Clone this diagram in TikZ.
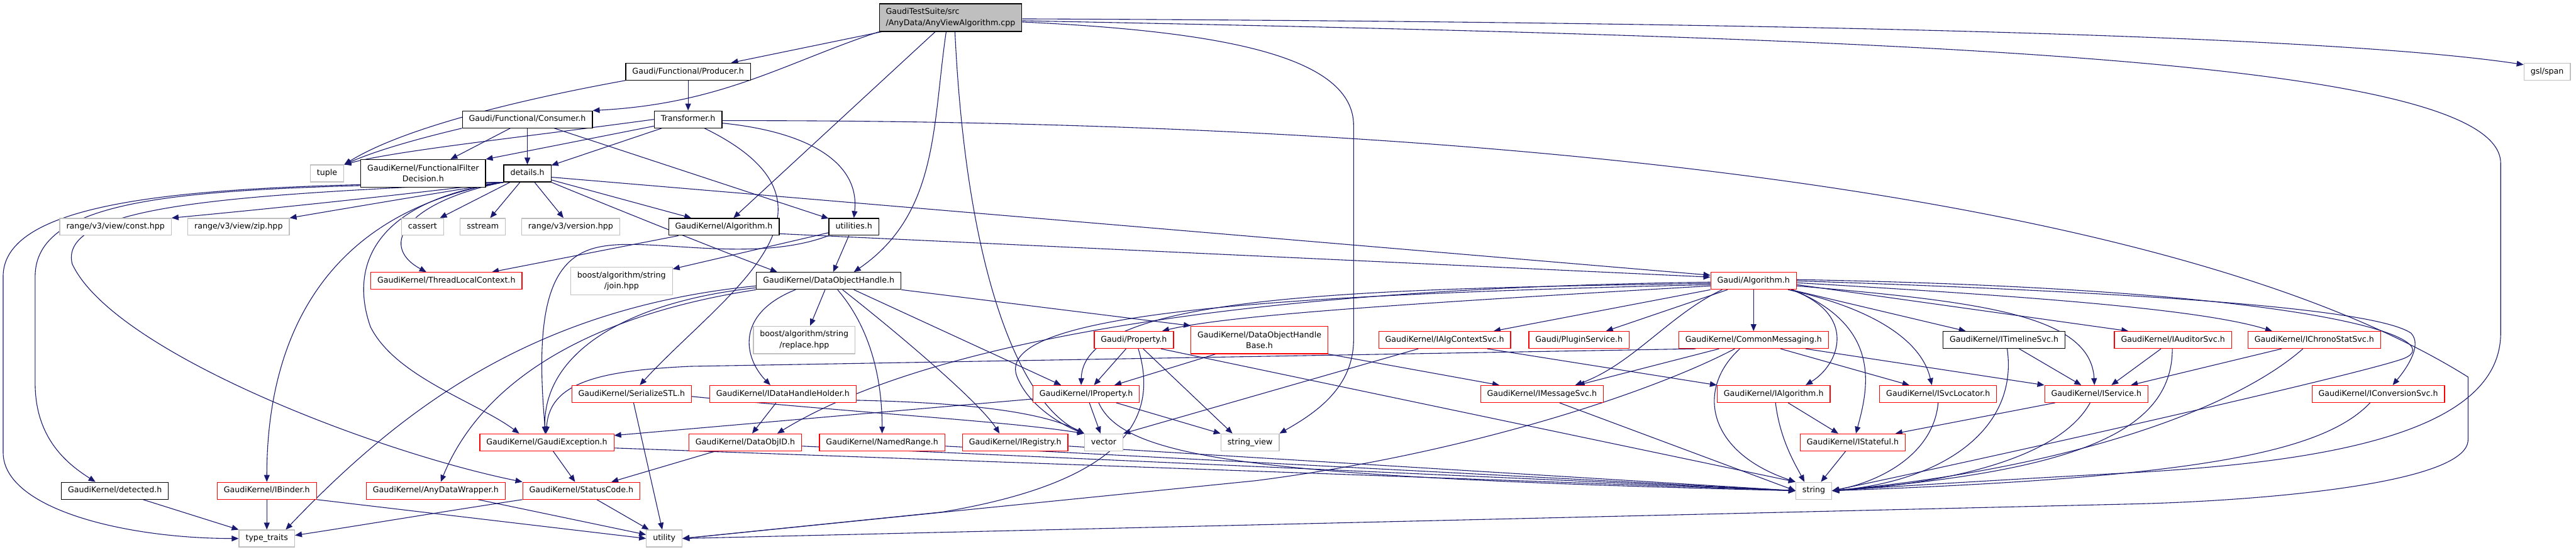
\documentclass[tikz,border=0pt]{standalone}
\usepackage{fontspec}
\setmainfont{DejaVu Sans}
\usetikzlibrary{arrows.meta,backgrounds}

\definecolor{edgeblue}{HTML}{191970}
\definecolor{sysgray}{HTML}{BFBFBF}
\definecolor{rootgray}{HTML}{BFBFBF}
\definecolor{truncred}{HTML}{FF0000}

\newcommand*{\picw}{4103}
\newcommand*{\pich}{878}
\newcommand*{\dotfont}{\fontsize{12.65}{17.3}\selectfont}

\begin{document}
\begin{tikzpicture}
[
	x=1pt, y=-1pt,
	hbox/.style={rectangle,fill=white,line width=1.2pt,inner xsep=10.5pt,inner ysep=0pt,font=\dotfont,minimum height=27pt,text height=9.6pt,text depth=3pt},
	hboxii/.style={rectangle,fill=white,line width=1.2pt,inner xsep=10.5pt,inner ysep=0pt,font=\dotfont,minimum height=44pt,align=center},
	blackline/.style={draw=black},
	redline/.style={draw=truncred},
	grayline/.style={draw=sysgray},
	dep/.style={-{Triangle[length=11pt,width=9pt]},draw=edgeblue,line width=1.1pt}
]

	\useasboundingbox (0,0) rectangle (\picw,\pich);

	% top rows
	\node[hboxii,blackline,fill=rootgray,align=left] (root) at (1514,28) {GaudiTestSuite/src\\/AnyData/AnyViewAlgorithm.cpp};
	\node[hbox,blackline] (producer) at (1096,114) {Gaudi/Functional/Producer.h};
	\node[hbox,grayline] (gslspan) at (4057,114) {gsl/span};
	\node[hbox,blackline] (consumer) at (840,190) {Gaudi/Functional/Consumer.h};
	\node[hbox,blackline] (transformer) at (1096,190) {Transformer.h};
	\node[hbox,grayline] (tuple) at (521,276) {tuple};
	\node[hboxii,blackline] (ffd) at (674,276) {GaudiKernel/FunctionalFilter\\Decision.h};
	\node[hbox,blackline] (details) at (840,276) {details.h};

	% details.h row
	\node[hbox,grayline] (constv) at (184,361) {range/v3/view/const.hpp};
	\node[hbox,grayline] (zipv) at (380,361) {range/v3/view/zip.hpp};
	\node[hbox,grayline] (cassert) at (673,361) {cassert};
	\node[hbox,grayline] (sstream) at (769,361) {sstream};
	\node[hbox,grayline] (version) at (909,361) {range/v3/version.hpp};
	\node[hbox,blackline] (gkalg) at (1153,361) {GaudiKernel/Algorithm.h};
	\node[hbox,blackline] (utilities) at (1360,361) {utilities.h};

	% middle rows
	\node[hbox,redline] (tlc) at (711,447) {GaudiKernel/ThreadLocalContext.h};
	\node[hboxii,grayline] (join) at (990,447) {boost/algorithm/string\\/join.hpp};
	\node[hbox,blackline] (doh) at (1320,447) {GaudiKernel/DataObjectHandle.h};
	\node[hbox,redline] (galg) at (2793,447) {Gaudi/Algorithm.h};
	\node[hboxii,grayline] (replace) at (1281,541) {boost/algorithm/string\\/replace.hpp};
	\node[hbox,redline] (property) at (1806,541) {Gaudi/Property.h};
	\node[hboxii,redline] (dohbase) at (2006,541) {GaudiKernel/DataObjectHandle\\Base.h};
	\node[hbox,redline] (algctx) at (2301,541) {GaudiKernel/IAlgContextSvc.h};
	\node[hbox,redline] (plugin) at (2515,541) {Gaudi/PluginService.h};
	\node[hbox,redline] (commsg) at (2793,541) {GaudiKernel/CommonMessaging.h};
	\node[hbox,blackline] (timeline) at (3192,541) {GaudiKernel/ITimelineSvc.h};
	\node[hbox,redline] (auditor) at (3461,541) {GaudiKernel/IAuditorSvc.h};
	\node[hbox,redline] (chrono) at (3686,541) {GaudiKernel/IChronoStatSvc.h};
	\node[hbox,redline] (serstl) at (1006,627) {GaudiKernel/SerializeSTL.h};
	\node[hbox,redline] (dhholder) at (1247,627) {GaudiKernel/IDataHandleHolder.h};
	\node[hbox,redline] (iprop) at (1730,627) {GaudiKernel/IProperty.h};
	\node[hbox,redline] (msgsvc) at (2456,627) {GaudiKernel/IMessageSvc.h};
	\node[hbox,redline] (ialg) at (2825,627) {GaudiKernel/IAlgorithm.h};
	\node[hbox,redline] (svcloc) at (3087,627) {GaudiKernel/ISvcLocator.h};
	\node[hbox,redline] (iservice) at (3339,627) {GaudiKernel/IService.h};
	\node[hbox,redline] (convsvc) at (3788,627) {GaudiKernel/IConversionSvc.h};

	% bottom rows
	\node[hbox,redline] (gexc) at (871,704) {GaudiKernel/GaudiException.h};
	\node[hbox,redline] (dataobjid) at (1187,704) {GaudiKernel/DataObjID.h};
	\node[hbox,redline] (namedrange) at (1405,704) {GaudiKernel/NamedRange.h};
	\node[hbox,redline] (iregistry) at (1617,704) {GaudiKernel/IRegistry.h};
	\node[hbox,grayline] (vector) at (1758,704) {vector};
	\node[hbox,grayline] (stringview) at (1991,704) {string\_view};
	\node[hbox,redline] (istateful) at (2951,704) {GaudiKernel/IStateful.h};
	\node[hbox,blackline] (detected) at (183,781) {GaudiKernel/detected.h};
	\node[hbox,redline] (ibinder) at (425,781) {GaudiKernel/IBinder.h};
	\node[hbox,redline] (anydw) at (694,781) {GaudiKernel/AnyDataWrapper.h};
	\node[hbox,redline] (statuscode) at (926,781) {GaudiKernel/StatusCode.h};
	\node[hbox,grayline] (string) at (2889,781) {string};
	\node[hbox,grayline] (typetraits) at (425,857) {type\_traits};
	\node[hbox,grayline] (utility) at (1058,857) {utility};

	\begin{pgfonlayer}{background}
	% source file
	\draw[dep] (root) -- (producer);
	\draw[dep] (root.south west) .. controls (1250,100) and (1150,165) .. (consumer.north east);
	\draw[dep] (root) -- (gkalg);
	\draw[dep] ([xshift=-7pt]root.south) .. controls (1485,200) and (1495,340) .. ([xshift=40pt]doh.north);
	\draw[dep] ([xshift=7pt]root.south) .. controls (1540,450) and (1630,645) .. (vector.north west);
	\draw[dep] ([yshift=-7pt]root.east) .. controls (1950,50) and (2156,90) .. (2156,200) -- (2156,540) .. controls (2156,620) and (2090,660) .. (stringview.north east);
	\draw[dep] ([yshift=-2pt]root.east) .. controls (2800,35) and (3700,55) .. ([yshift=-3pt]gslspan.north west);
	\draw[dep] ([yshift=-5pt]root.east) .. controls (3000,60) and (3983,90) .. (3983,260) -- (3983,530) .. controls (3983,690) and (3700,735) .. (3400,752) .. controls (3200,763) and (3000,775) .. (string.east);

	% Producer.h, Consumer.h, Transformer.h
	\draw[dep] (producer) -- (transformer);
	\draw[dep] (producer.south west) .. controls (820,160) and (640,205) .. (tuple.north east);
	\draw[dep] (consumer.south west) .. controls (690,215) and (610,235) .. (tuple.north east);
	\draw[dep] (consumer) -- (ffd);
	\draw[dep] (consumer) -- (details);
	\draw[dep] (consumer) -- (utilities);
	\draw[dep] (transformer.west) .. controls (820,220) and (630,240) .. (tuple.north east);
	\draw[dep] (transformer) -- (ffd.north east);
	\draw[dep] (transformer) -- (details);
	\draw[dep] ([yshift=-6pt]transformer.east) .. controls (1290,210) and (1370,260) .. (utilities.north);
	\draw[dep] ([xshift=26pt]transformer.south) .. controls (1380,330) and (1150,470) .. ([xshift=13pt]serstl.north);
	\draw[dep] ([yshift=-2pt]transformer.east) .. controls (2500,190) and (3500,330) .. (3931,600) -- (3931,700) .. controls (3931,770) and (3600,797) .. (3400,802) -- (utility.east);

	% details.h
	\draw[dep] (details.south west) .. controls (400,295) and (5,300) .. (5,440) -- (5,720) .. controls (5,810) and (200,857) .. (typetraits.west);
	\draw[dep] (details.south west) .. controls (350,300) and (56,300) .. (56,440) -- (56,610) .. controls (56,700) and (110,740) .. ([xshift=-31pt]detected.north);
	\draw[dep] (details.south west) .. controls (420,310) and (90,320) .. (115,420) .. controls (180,560) and (600,720) .. (statuscode.north west);
	\draw[dep] (details.south west) .. controls (600,315) and (400,335) .. (constv.north east);
	\draw[dep] (details.south west) .. controls (680,310) and (560,330) .. (zipv.north east);
	\draw[dep] (details.south west) .. controls (500,340) and (425,560) .. (ibinder.north);
	\draw[dep] (details.south west) .. controls (600,320) and (555,420) .. (590,520) .. controls (630,600) and (760,640) .. ([xshift=-44pt]gexc.north);
	\draw[dep] (details.south west) .. controls (650,320) and (600,390) .. ([xshift=-32pt]tlc.north);
	\draw[dep] (details) -- (cassert);
	\draw[dep] (details) -- (sstream);
	\draw[dep] (details) -- (version);
	\draw[dep] (details) -- (gkalg);
	\draw[dep] (details.south east) .. controls (1000,340) and (1150,400) .. ([xshift=-82pt]doh.north);
	\draw[dep] ([yshift=-6pt]details.east) -- ([yshift=9pt]galg.west);

	% GaudiKernel/Algorithm.h, utilities.h
	\draw[dep] ([yshift=-11pt]gkalg.east) -- ([yshift=6pt]galg.west);
	\draw[dep] (gkalg) -- (tlc);
	\draw[dep] (utilities) -- (join);
	\draw[dep] ([xshift=-8pt]utilities.south) -- ([xshift=7pt]doh.north);
	\draw[dep] (utilities.south west) .. controls (1200,420) and (1040,378) .. (960,392) .. controls (880,405) and (850,480) .. ([xshift=-2pt]gexc.north);

	% DataObjectHandle.h
	\draw[dep] ([yshift=-11pt]doh.west) .. controls (1000,480) and (865,560) .. ([xshift=-3pt]gexc.north);
	\draw[dep] (doh.south west) .. controls (950,500) and (770,600) .. ([xshift=8pt]anydw.north);
	\draw[dep] ([yshift=-8pt]doh.west) .. controls (850,490) and (640,650) .. ([xshift=30pt]typetraits.north);
	\draw[dep] ([xshift=-53pt]doh.south) .. controls (1170,500) and (1185,570) .. ([xshift=-20pt]dhholder.north);
	\draw[dep] (doh) -- (replace);
	\draw[dep] ([xshift=14pt]doh.south) .. controls (1385,520) and (1405,600) .. (namedrange.north);
	\draw[dep] ([xshift=22pt]doh.south) .. controls (1430,530) and (1560,640) .. ([xshift=-25pt]iregistry.north);
	\draw[dep] ([xshift=40pt]doh.south) -- ([xshift=-40pt]iprop.north);
	\draw[dep] (doh.south east) -- (dohbase.north west);

	% Gaudi/Algorithm.h
	\draw[dep] ([yshift=-8pt]galg.west) .. controls (2300,480) and (1960,500) .. ([xshift=45pt]property.north);
	\draw[dep] ([yshift=-4pt]galg.west) .. controls (2150,460) and (1725,470) .. ([xshift=-8pt]iprop.north);
	\draw[dep] ([yshift=-6pt]galg.west) .. controls (2000,470) and (1580,500) .. (1620,600) .. controls (1640,650) and (1700,680) .. (vector.north west);
	\draw[dep] ([yshift=-2pt]galg.west) .. controls (1900,460) and (1450,560) .. ([xshift=51pt]dataobjid.north);
	\draw[dep] (galg.south west) -- ([xshift=78pt]algctx.north);
	\draw[dep] (galg) -- ([xshift=43pt]plugin.north);
	\draw[dep] ([xshift=-50pt]galg.south) .. controls (2660,500) and (2600,580) .. ([xshift=53pt]msgsvc.north);
	\draw[dep] (galg) -- (commsg);
	\draw[dep] ([xshift=60pt]galg.south) .. controls (2960,500) and (2930,580) .. ([xshift=51pt]ialg.north);
	\draw[dep] ([xshift=62pt]galg.south) .. controls (3000,520) and (2975,620) .. ([xshift=5pt]istateful.north);
	\draw[dep] ([xshift=55pt]galg.south) .. controls (2980,490) and (3060,540) .. ([xshift=-10pt]svcloc.north);
	\draw[dep] (galg) -- ([xshift=-61pt]timeline.north);
	\draw[dep] ([yshift=-8pt]galg.east) .. controls (3150,480) and (3330,500) .. ([xshift=-3pt]iservice.north);
	\draw[dep] ([yshift=-6pt]galg.east) -- ([xshift=-71pt]auditor.north);
	\draw[dep] ([yshift=-3pt]galg.east) .. controls (3200,470) and (3500,490) .. ([xshift=-67pt]chrono.north);
	\draw[dep] (galg.east) .. controls (3400,465) and (3780,490) .. (3840,530) .. controls (3860,550) and (3830,590) .. ([xshift=23pt]convsvc.north);
	\draw[dep] ([yshift=2pt]galg.east) .. controls (3700,460) and (3900,540) .. (3830,570) .. controls (3780,590) and (3300,700) .. (string.east);

	% CommonMessaging.h and friends
	\draw[dep] (commsg) -- ([xshift=57pt]msgsvc.north);
	\draw[dep] ([xshift=-92pt]commsg.south) -- (1100,583) .. controls (950,590) and (875,610) .. ([xshift=-1pt]gexc.north);
	\draw[dep] ([xshift=83pt]commsg.south) -- (iservice.north west);
	\draw[dep] ([xshift=43pt]commsg.south) -- ([xshift=-46pt]svcloc.north);
	\draw[dep] ([xshift=-22pt]commsg.south) .. controls (2700,620) and (2720,720) .. (string.north west);
	\draw[dep] ([xshift=-30pt]commsg.south) .. controls (2640,620) and (2350,720) .. (2000,765) -- (utility.east);
	\draw[dep] (property) -- (iprop);
	\draw[dep] (property) -- ([xshift=-28pt]stringview.north);
	\draw[dep] ([xshift=7pt]property.south) .. controls (1845,660) and (1800,765) .. (1500,815) -- (utility.east);
	\draw[dep] ([xshift=43pt]property.south) -- (string.north west);
	\draw[dep] ([xshift=-70pt]dohbase.south) -- ([xshift=45pt]iprop.north);
	\draw[dep] (dohbase.south east) -- ([xshift=-68pt]msgsvc.north);
	\draw[dep] ([xshift=-42pt]algctx.south) -- (vector.north east);
	\draw[dep] ([xshift=68pt]algctx.south) -- (ialg.north west);
	\draw[dep] ([yshift=-8pt]iprop.west) -- ([yshift=11pt]gexc.east);
	\draw[dep] (iprop) -- (vector);
	\draw[dep] (iprop) -- (stringview.north west);
	\draw[dep] ([xshift=20pt]iprop.south) .. controls (1790,730) and (2000,760) .. (string.west);
	\draw[dep] ([xshift=28pt]msgsvc.south) -- (string.west);
	\draw[dep] (ialg) -- (istateful);
	\draw[dep] ([xshift=3pt]ialg.south) .. controls (2835,700) and (2860,740) .. ([xshift=-15pt]string.north);
	\draw[dep] (svcloc.south) .. controls (3080,720) and (3000,765) .. (string.east);
	\draw[dep] (timeline) -- (iservice);
	\draw[dep] ([xshift=5pt]timeline.south) .. controls (3215,680) and (3100,765) .. (string.east);
	\draw[dep] ([xshift=-66pt]iservice.south) -- ([xshift=68pt]istateful.north);
	\draw[dep] ([xshift=-10pt]iservice.south) .. controls (3280,730) and (3100,770) .. (string.east);
	\draw[dep] ([xshift=-19pt]auditor.south) -- ([xshift=24pt]iservice.north);
	\draw[dep] ([xshift=-1pt]auditor.south) .. controls (3460,690) and (3300,750) .. (string.east);
	\draw[dep] ([xshift=-52pt]chrono.south) -- ([xshift=55pt]iservice.north);
	\draw[dep] ([xshift=-18pt]chrono.south) .. controls (3560,650) and (3300,745) .. (string.east);
	\draw[dep] ([xshift=-13pt]convsvc.south) .. controls (3700,720) and (3500,760) .. (string.east);
	\draw[dep] (istateful) -- (string);

	% lower left nodes
	\draw[dep] (dhholder) -- (dataobjid);
	\draw[dep] ([yshift=-10pt]dhholder.east) .. controls (1500,640) and (1650,650) .. (vector.north west);
	\draw[dep] (serstl) -- (utility);
	\draw[dep] ([yshift=-4pt]serstl.east) .. controls (1400,660) and (1600,670) .. (vector.north west);
	\draw[dep] (gexc) -- (statuscode);
	\draw[dep] ([yshift=-9pt]gexc.east) -- (string.west);
	\draw[dep] (dataobjid) -- (statuscode);
	\draw[dep] ([yshift=-6pt]dataobjid.east) -- (string.west);
	\draw[dep] ([yshift=-6pt]namedrange.east) -- (string.west);
	\draw[dep] ([yshift=-6pt]iregistry.east) -- (string.west);
	\draw[dep] (statuscode) -- (utility);
	\draw[dep] (statuscode.south west) .. controls (700,815) and (550,840) .. ([yshift=5pt]typetraits.east);
	\draw[dep] (anydw) -- (utility);
	\draw[dep] (ibinder.south east) -- (utility.west);
	\draw[dep] (ibinder) -- (typetraits);
	\draw[dep] (detected) -- (typetraits);
	\end{pgfonlayer}

\end{tikzpicture}
\end{document}
